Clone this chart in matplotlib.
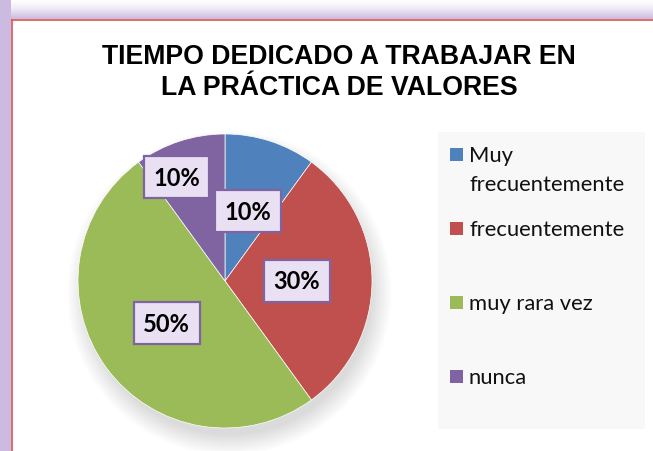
import numpy as np
import matplotlib.pyplot as plt
from matplotlib.patches import Rectangle, Circle

# datos
categorias = ["Muy\nfrecuentemente", "frecuentemente", "muy rara vez", "nunca"]
porcentajes = [10, 30, 50, 10]
colores = ["#4f81bd", "#c0504d", "#9bbb59", "#8064a2"]
titulo = ["TIEMPO DEDICADO A TRABAJAR EN", "LA PRÁCTICA DE VALORES"]

W, H = 653, 452
fig = plt.figure(figsize=(W / 100, H / 100), dpi=100)

# ── Fondo: marco morado con degradado ─────────────────
bg = fig.add_axes([0, 0, 1, 1])
img = np.ones((H, W, 3))
lav = np.array([0.80, 0.73, 0.88])
for y in range(20):
    t = (y / 19) ** 1.5
    img[y, :, :] = (1 - t) * np.ones(3) + t * lav
img[:, :11, :] = lav
img[20:, 11:, :] = 1.0
bg.imshow(img, extent=[0, W, H, 0], aspect="auto")
bg.plot([11.5, 11.5], [20.5, H], color="#d9534f", lw=1.2)
bg.plot([11.5, W], [20.5, 20.5], color="#d9534f", lw=1.2)
bg.set_xlim(0, W)
bg.set_ylim(H, 0)
bg.axis("off")

# ── Título ─────────────────────────────────────────────
fig.text(339 / W, 1 - 57 / H, titulo[0], ha="center", va="center",
         fontsize=19.2, weight="bold", family="Liberation Sans")
fig.text(339 / W, 1 - 88 / H, titulo[1], ha="center", va="center",
         fontsize=19.2, weight="bold", family="Liberation Sans")

# ── Pastel ─────────────────────────────────────────────
cx, cy, r = 225, 282, 147
ax = fig.add_axes([(cx - r) / W, (H - cy - r) / H, 2 * r / W, 2 * r / H])

# sombra suave (abajo a la derecha)
for i in range(12):
    ax.add_patch(Circle((0.03, -0.08), 0.97 + 0.012 * i, color="black",
                        alpha=0.012, lw=0, clip_on=False, zorder=0))

wedges, _ = ax.pie(porcentajes, colors=colores, startangle=90,
                   counterclock=False, radius=1,
                   wedgeprops=dict(edgecolor="white", linewidth=0.5))
for w in wedges:
    w.set_zorder(2)
ax.set_xlim(-1, 1)
ax.set_ylim(-1, 1)
ax.axis("off")

dist = [0.5, 0.49, 0.49, 0.78]
nudge = [0, 0, 0, 7]
for w, p, d, n in zip(wedges, porcentajes, dist, nudge):
    ang = np.deg2rad((w.theta1 + w.theta2) / 2 + n)
    ax.text(d * np.cos(ang), d * np.sin(ang), f"{p}%", ha="center", va="center",
            fontsize=17, weight="bold", family="Lato", zorder=5,
            bbox=dict(boxstyle="square,pad=0.4", facecolor="#e9e1f3",
                      edgecolor="#8064a2", linewidth=1.6))

# ── Leyenda ────────────────────────────────────────────
lg = fig.add_axes([0, 0, 1, 1], facecolor="none")
lg.set_xlim(0, W)
lg.set_ylim(H, 0)
lg.axis("off")
lg.add_patch(Rectangle((438, 133), 207, 297, facecolor="#f8f8f8", edgecolor="none"))
ys = [156, 230, 304, 378]
for lab, col, y in zip(categorias, colores, ys):
    lg.add_patch(Rectangle((450, y - 7), 13, 13, facecolor=col, edgecolor="none"))
    for k, line in enumerate(lab.split("\n")):
        lg.text(469, y + 29 * k, line, ha="left", va="center",
                fontsize=15.8, family="Lato", color="#111111")

fig.savefig("out.png", dpi=100)
